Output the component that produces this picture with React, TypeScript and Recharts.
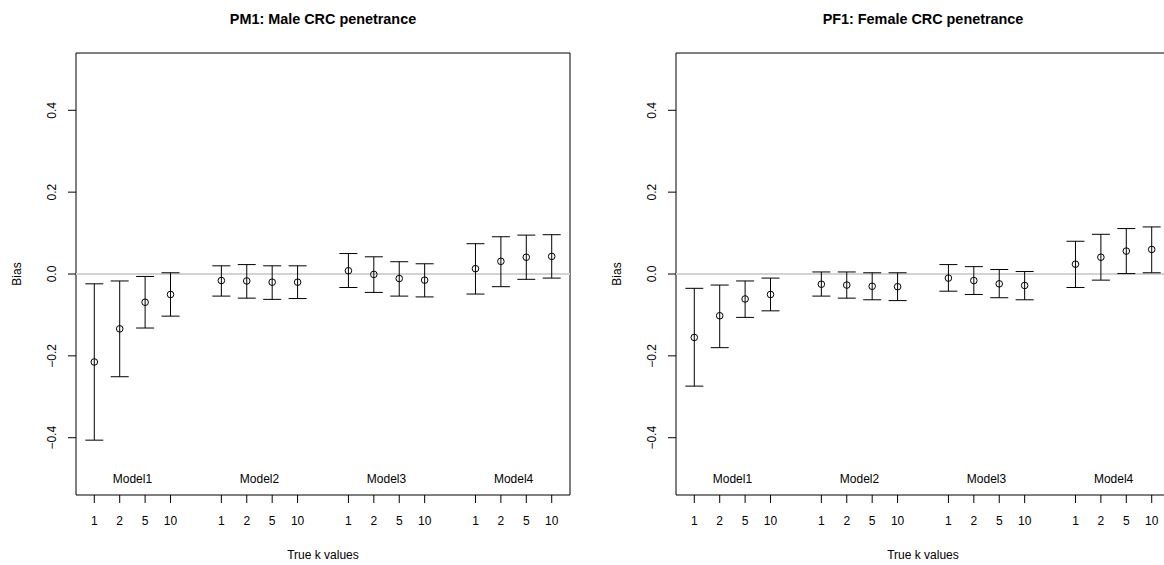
import React from "react";
import {
  ScatterChart,
  Scatter,
  XAxis,
  YAxis,
  ErrorBar,
  ReferenceLine,
  ReferenceArea,
} from "recharts";

const kLabels = ["1", "2", "5", "10"];
const modelNames = ["Model1", "Model2", "Model3", "Model4"];
const xPositions = [1, 2, 3, 4, 6, 7, 8, 9, 11, 12, 13, 14, 16, 17, 18, 19];
const modelCenters = [2.5, 7.5, 12.5, 17.5];
const yTicks = [-0.4, -0.2, 0, 0.2, 0.4];

const maleBias = [-0.215, -0.134, -0.069, -0.05, -0.016, -0.017, -0.02, -0.02, 0.008, -0.001, -0.011, -0.015, 0.013, 0.031, 0.041, 0.043];
const maleLower = [-0.406, -0.251, -0.132, -0.103, -0.054, -0.059, -0.062, -0.06, -0.033, -0.045, -0.054, -0.056, -0.049, -0.031, -0.013, -0.01];
const maleUpper = [-0.024, -0.017, -0.006, 0.003, 0.02, 0.023, 0.02, 0.02, 0.05, 0.042, 0.03, 0.025, 0.074, 0.091, 0.095, 0.096];

const femaleBias = [-0.155, -0.102, -0.061, -0.05, -0.025, -0.027, -0.03, -0.031, -0.01, -0.016, -0.024, -0.028, 0.024, 0.041, 0.056, 0.06];
const femaleLower = [-0.274, -0.18, -0.106, -0.09, -0.054, -0.059, -0.063, -0.065, -0.042, -0.05, -0.058, -0.063, -0.033, -0.015, 0.001, 0.003];
const femaleUpper = [-0.035, -0.027, -0.017, -0.01, 0.005, 0.005, 0.003, 0.003, 0.023, 0.018, 0.011, 0.006, 0.08, 0.097, 0.111, 0.115];

const FONT = '"Liberation Sans", Arial, Helvetica, sans-serif';
const X_DOMAIN: [number, number] = [0.28, 19.72];
const Y_DOMAIN: [number, number] = [-0.54, 0.54];
const PANEL_W = 600;
const PANEL_H = 565;

function buildRows(bias: number[], lower: number[], upper: number[]) {
  return bias.map((b, i) => ({
    x: xPositions[i],
    y: b,
    err: [b - lower[i], upper[i] - b],
  }));
}

const modelRows = modelNames.map((name, i) => ({ x: modelCenters[i], y: -0.5, label: name }));

const fmtY = (v: number) => (v < 0 ? "\u2212" + Math.abs(v).toFixed(1) : v.toFixed(1));

function XTick(props: any) {
  const { x, y, payload } = props;
  const idx = xPositions.indexOf(payload.value);
  return (
    <text x={x} y={y + 22} textAnchor="middle" fontSize={12} fontFamily={FONT} fill="#000">
      {kLabels[idx % 4]}
    </text>
  );
}

function YTick(props: any) {
  const { x, y, payload } = props;
  return (
    <text
      x={x}
      y={y}
      transform={`rotate(-90, ${x}, ${y})`}
      textAnchor="middle"
      fontSize={12}
      fontFamily={FONT}
      fill="#000"
    >
      {fmtY(payload.value)}
    </text>
  );
}

const Point = (props: any) => (
  <circle cx={props.cx} cy={props.cy} r={3.3} fill="none" stroke="#000" strokeWidth={1} />
);

const ModelText = (props: any) => (
  <text
    x={props.cx}
    y={props.cy}
    textAnchor="middle"
    dominantBaseline="central"
    fontSize={12}
    fontFamily={FONT}
    fill="#000"
  >
    {props.payload.label}
  </text>
);

function Panel({ title, rows, left }: { title: string; rows: any[]; left: number }) {
  return (
    <div style={{ position: "absolute", left, top: 0, width: PANEL_W, height: PANEL_H }}>
      <ScatterChart width={PANEL_W} height={PANEL_H} margin={{ top: 53, right: 30, bottom: 30, left: 16 }}>
        <XAxis
          type="number"
          dataKey="x"
          domain={X_DOMAIN}
          allowDataOverflow
          ticks={xPositions}
          interval={0}
          tick={<XTick />}
          tickSize={8}
          tickMargin={0}
          tickLine={{ stroke: "#000" }}
          axisLine={false}
          height={40}
        />
        <YAxis
          type="number"
          dataKey="y"
          domain={Y_DOMAIN}
          allowDataOverflow
          ticks={yTicks}
          interval={0}
          tick={<YTick />}
          tickSize={8}
          tickMargin={12}
          tickLine={{ stroke: "#000" }}
          axisLine={false}
          width={60}
        />
        <ReferenceLine y={0} stroke="#d3d3d3" strokeWidth={2} />
        <ReferenceArea
          x1={X_DOMAIN[0]}
          x2={X_DOMAIN[1]}
          y1={Y_DOMAIN[0]}
          y2={Y_DOMAIN[1]}
          fill="none"
          stroke="#000"
          strokeWidth={1}
        />
        <Scatter data={rows} shape={Point} isAnimationActive={false}>
          <ErrorBar dataKey="err" direction="y" width={9} stroke="#000" strokeWidth={1} isAnimationActive={false} />
        </Scatter>
        <Scatter data={modelRows} shape={ModelText} isAnimationActive={false} />
      </ScatterChart>
      <div
        style={{
          position: "absolute",
          left: 323,
          top: 18.5,
          transform: "translate(-50%, -50%)",
          fontFamily: FONT,
          fontWeight: "bold",
          fontSize: 14.4,
          lineHeight: 1,
          whiteSpace: "nowrap",
        }}
      >
        {title}
      </div>
      <div
        style={{
          position: "absolute",
          left: 323,
          top: 555,
          transform: "translate(-50%, -50%)",
          fontFamily: FONT,
          fontSize: 12,
          lineHeight: 1,
          whiteSpace: "nowrap",
        }}
      >
        True k values
      </div>
      <div
        style={{
          position: "absolute",
          left: 17,
          top: 274,
          transform: "translate(-50%, -50%) rotate(-90deg)",
          fontFamily: FONT,
          fontSize: 12,
          lineHeight: 1,
          whiteSpace: "nowrap",
        }}
      >
        Bias
      </div>
    </div>
  );
}

export default function App() {
  return (
    <div
      style={{
        position: "fixed",
        left: 0,
        top: 0,
        width: 1164,
        height: 565,
        overflow: "hidden",
        background: "#fff",
      }}
    >
      <Panel title="PM1: Male CRC penetrance" rows={buildRows(maleBias, maleLower, maleUpper)} left={0} />
      <Panel title="PF1: Female CRC penetrance" rows={buildRows(femaleBias, femaleLower, femaleUpper)} left={600} />
    </div>
  );
}
